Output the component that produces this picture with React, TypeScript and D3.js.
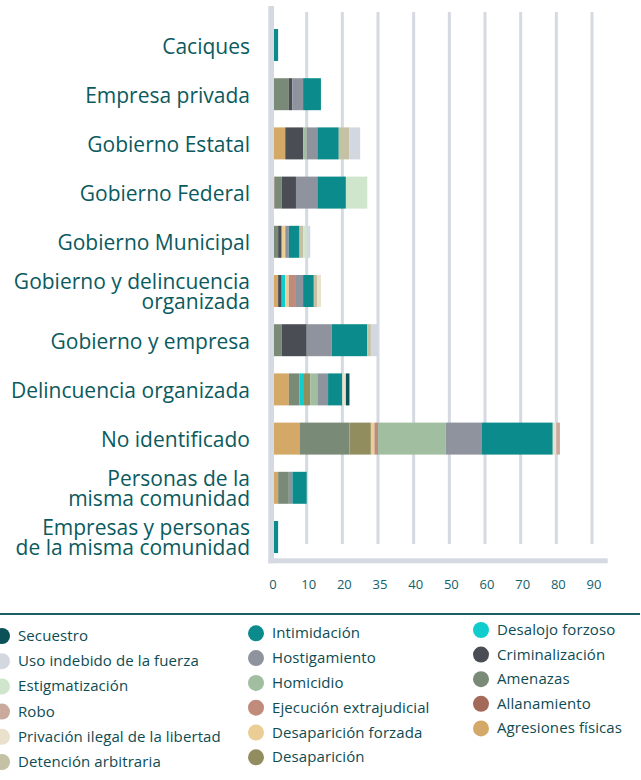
import React from "react";
import * as d3 from "d3";

const categories = [
  "Caciques",
  "Empresa privada",
  "Gobierno Estatal",
  "Gobierno Federal",
  "Gobierno Municipal",
  "Gobierno y delincuencia organizada",
  "Gobierno y empresa",
  "Delincuencia organizada",
  "No identificado",
  "Personas de la misma comunidad",
  "Empresas y personas de la misma comunidad",
];
const categoryLines = [
  ["Caciques"],
  ["Empresa privada"],
  ["Gobierno Estatal"],
  ["Gobierno Federal"],
  ["Gobierno Municipal"],
  ["Gobierno y delincuencia", "organizada"],
  ["Gobierno y empresa"],
  ["Delincuencia organizada"],
  ["No identificado"],
  ["Personas de la", "misma comunidad"],
  ["Empresas y personas", "de la misma comunidad"],
];

// series in stacking order (left to right)
const seriesNames = [
  "Agresiones físicas",
  "Allanamiento",
  "Amenazas",
  "Criminalización",
  "Desalojo forzoso",
  "Desaparición",
  "Desaparición forzada",
  "Ejecución extrajudicial",
  "Homicidio",
  "Hostigamiento",
  "Intimidación",
  "Detención arbitraria",
  "Privación ilegal de la libertad",
  "Robo",
  "Estigmatización",
  "Uso indebido de la fuerza",
  "Secuestro",
];
const seriesColors = [
  "#d4a866",
  "#a36a5a",
  "#798b77",
  "#4a4d53",
  "#10cccc",
  "#928d5e",
  "#ebcd96",
  "#c08b7b",
  "#a1bea1",
  "#8e939e",
  "#0b8b8b",
  "#c5c1a5",
  "#e9e1cb",
  "#c9aa9d",
  "#cfe6cd",
  "#d3d7df",
  "#0b5157",
];

const agresiones = [0, 0, 4, 0, 0, 2, 0, 5, 8, 2, 0];
const allanamiento = [0, 0, 0, 1, 0, 0, 0, 0, 0, 0, 0];
const amenazas = [0, 5, 0, 2, 2, 0, 3, 3, 14, 3, 0];
const criminalizacion = [0, 1, 5, 4, 1, 1, 7, 0, 0, 0, 0];
const desalojo = [0, 0, 0, 0, 0, 1, 0, 1, 0, 0, 0];
const desaparicion = [0, 0, 0, 0, 0, 0, 0, 2, 6, 0, 0];
const desapForzada = [0, 0, 0, 0, 1, 1, 0, 0, 1, 0, 0];
const ejecucion = [0, 0, 0, 0, 0, 2, 0, 0, 1, 0, 0];
const homicidio = [0, 0, 1, 0, 0, 0, 0, 2, 19, 0, 0];
const hostigamiento = [0, 3, 3, 6, 1, 2, 7, 3, 10, 1, 0];
const intimidacion = [2, 5, 6, 8, 3, 3, 10, 4, 20, 4, 2];
const detencion = [0, 0, 3, 0, 1, 1, 1, 0, 0, 0, 0];
const privacion = [0, 0, 0, 0, 0, 1, 0, 1, 1, 0, 0];
const robo = [0, 0, 0, 0, 0, 0, 0, 0, 1, 0, 0];
const estigmatizacion = [0, 0, 0, 6, 1, 0, 0, 0, 0, 0, 0];
const usoIndebido = [0, 0, 3, 0, 1, 0, 2, 0, 0, 0, 0];
const secuestro = [0, 0, 0, 0, 0, 0, 0, 1, 0, 0, 0];

const seriesValues = [
  agresiones, allanamiento, amenazas, criminalizacion, desalojo, desaparicion,
  desapForzada, ejecucion, homicidio, hostigamiento, intimidacion, detencion,
  privacion, robo, estigmatizacion, usoIndebido, secuestro,
];

const tickValues = [0, 10, 20, 30, 40, 50, 60, 70, 80, 90];
const tickLabels = ["0", "10", "20", "35", "40", "50", "60", "70", "80", "90"];

// legend columns (top to bottom)
const legendCol1 = ["Secuestro", "Uso indebido de la fuerza", "Estigmatización", "Robo", "Privación ilegal de la libertad", "Detención arbitraria"];
const legendCol2 = ["Intimidación", "Hostigamiento", "Homicidio", "Ejecución extrajudicial", "Desaparición forzada", "Desaparición"];
const legendCol3 = ["Desalojo forzoso", "Criminalización", "Amenazas", "Allanamiento", "Agresiones físicas"];

const W = 641;
const H = 780;
const FONT = "'Open Sans', sans-serif";
const LABEL_COLOR = "#0b5a5e";
const GRID = "#d5d9e1";

export default function App() {
  const table = categories.map((c, i) => {
    const row: any = { category: c };
    seriesNames.forEach((s, j) => (row[s] = seriesValues[j][i]));
    return row;
  });
  const stacked = d3.stack().keys(seriesNames)(table);

  const x = d3.scaleLinear().domain([0, 90]).range([271, 592]);
  const y = d3
    .scaleBand()
    .domain(categories)
    .range([20.4, 561.6])
    .paddingInner(0.35)
    .paddingOuter(0.175);
  const color = d3.scaleOrdinal<string, string>().domain(seriesNames).range(seriesColors);

  const legendCols = [
    { items: legendCol1, cx: 2, tx: 18, y0: 636, step: 25.2 },
    { items: legendCol2, cx: 256, tx: 272, y0: 633.3, step: 24.8 },
    { items: legendCol3, cx: 481, tx: 497, y0: 630, step: 24.6 },
  ];

  return (
    <svg
      width={W}
      height={H}
      style={{ position: "absolute", left: 0, top: 0, background: "#fff" }}
      fontFamily={FONT}
    >
      {/* grid lines */}
      {tickValues.slice(1).map((t) => (
        <line key={t} x1={x(t)} x2={x(t)} y1={12} y2={544} stroke={GRID} strokeWidth={3} />
      ))}
      {/* bars */}
      {stacked.map((layer) => (
        <g key={layer.key} fill={color(layer.key)}>
          {layer.map((d, i) =>
            d[1] - d[0] > 0 ? (
              <rect
                key={i}
                x={x(d[0])}
                y={y(categories[i])}
                width={x(d[1]) - x(d[0])}
                height={y.bandwidth()}
              />
            ) : null
          )}
        </g>
      ))}
      {/* axes */}
      <rect x={268.3} y={6} width={5.7} height={557.3} fill={GRID} />
      <rect x={268.3} y={558.3} width={339.4} height={5} fill={GRID} />
      {/* tick labels */}
      {tickValues.map((t, i) => (
        <text
          key={t}
          x={x(t) + 2}
          y={589}
          textAnchor="middle"
          fontSize={13}
          fill="#136168"
        >
          {tickLabels[i]}
        </text>
      ))}
      {/* category labels */}
      {categories.map((c, i) => {
        const cy = (y(c) as number) + y.bandwidth() / 2;
        const lines = categoryLines[i];
        return (
          <text key={c} textAnchor="end" fontSize={21} fill={LABEL_COLOR}>
            {lines.length === 1 ? (
              <tspan x={250} y={cy + 8.5}>
                {lines[0]}
              </tspan>
            ) : (
              lines.map((l, k) => (
                <tspan key={k} x={250} y={cy - 2 + k * 20}>
                  {l}
                </tspan>
              ))
            )}
          </text>
        );
      })}
      {/* legend separator */}
      <rect x={0} y={613} width={640} height={2} fill="#1b5e63" />
      {/* legend */}
      {legendCols.map((col, ci) => (
        <g key={ci}>
          {col.items.map((name, k) => {
            const cy = col.y0 + k * col.step;
            return (
              <g key={name}>
                <circle cx={col.cx} cy={cy} r={8} fill={color(name)} />
                <text x={col.tx} y={cy + 5} fontSize={15} fill="#0d4c52" letterSpacing={0.1}>
                  {name}
                </text>
              </g>
            );
          })}
        </g>
      ))}
    </svg>
  );
}
